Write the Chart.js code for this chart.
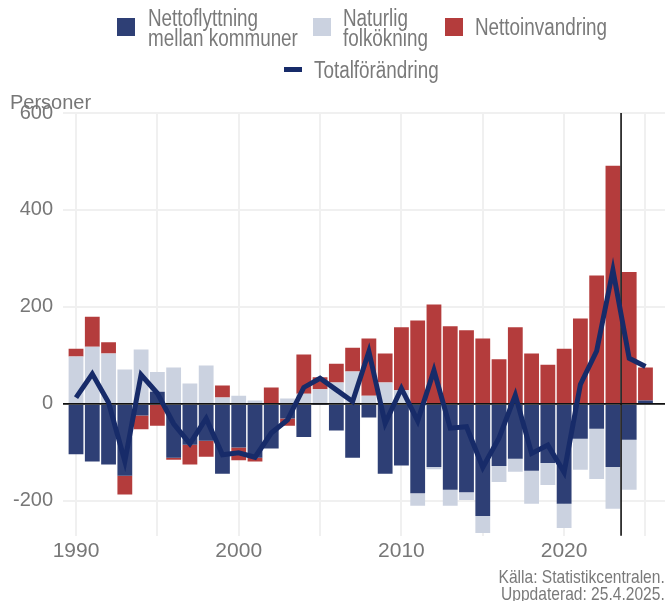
<!DOCTYPE html>
<html>
<head>
<meta charset="utf-8">
<script src="https://cdn.jsdelivr.net/npm/chart.js@4"></script>
<style>
  html, body { margin: 0; padding: 0; background: #fff; }
  #wrap { position: relative; width: 670px; height: 601px; overflow: hidden; }
  #c { position: absolute; left: 0; top: 0; }
  .lg { position: absolute; font-family: "Liberation Sans", Arial, sans-serif; font-size: 23px; color: #7a7a7a; line-height: 20px; white-space: nowrap; transform: scaleX(0.82); transform-origin: 0 0; }
  .box { position: absolute; width: 18px; height: 18px; }
  .ln { position: absolute; width: 18px; height: 5px; }
  #unit { position: absolute; left: 10px; top: 91px; font-family: "Liberation Sans", Arial, sans-serif; font-size: 20px; color: #777; }
  #src { position: absolute; right: 5px; top: 568px; text-align: right; font-family: "Liberation Sans", Arial, sans-serif; font-size: 19px; line-height: 17px; color: #7a7a7a; transform: scaleX(0.82); transform-origin: 100% 0; white-space: nowrap; }
</style>
</head>
<body>
<div id="wrap">
  <canvas id="c" width="670" height="601"></canvas>
  <div class="box" style="left:117px; top:18px; background:#2e3f75"></div>
  <div class="lg" style="left:148px; top:8px">Nettoflyttning<br>mellan kommuner</div>
  <div class="box" style="left:313px; top:18px; background:#cbd2e0"></div>
  <div class="lg" style="left:343px; top:8px">Naturlig<br>folkökning</div>
  <div class="box" style="left:445px; top:18px; background:#b43c3c"></div>
  <div class="lg" style="left:475px; top:17px">Nettoinvandring</div>
  <div class="ln" style="left:284px; top:67px; background:#172b69"></div>
  <div class="lg" style="left:314px; top:60px">Totalförändring</div>
  <div id="unit">Personer</div>
  <div id="src">Källa: Statistikcentralen.<br>Uppdaterad: 25.4.2025.</div>
</div>
<script>
const years = [1990,1991,1992,1993,1994,1995,1996,1997,1998,1999,
               2000,2001,2002,2003,2004,2005,2006,2007,2008,2009,
               2010,2011,2012,2013,2014,2015,2016,2017,2018,2019,
               2020,2021,2022,2023,2024,2025];
const nettoflyttning = [-104,-119,-125,-148,-24,25,-111,-84,-76,-144,
                        -90,-111,-92,-30,-68,-1,-55,-111,-28,-144,
                        -127,-184,-130,-177,-182,-231,-128,-113,-138,-122,
                        -206,-72,-51,-130,-74,7];
const naturlig = [98,118,104,71,112,41,75,42,79,13,
                  17,7,0,11,21,30,44,67,17,44,
                  28,-26,-5,-33,-16,-35,-33,-27,-68,-45,
                  -50,-64,-104,-86,-103,0];
const nettoinvandring = [16,62,23,-39,-28,-45,-4,-41,-33,25,
                         -26,-8,34,-15,81,25,39,49,118,60,
                         130,172,205,160,152,135,92,158,104,81,
                         114,176,265,491,272,68];
const totalforandring = [13,62,3,-118,60,22,-41,-82,-30,-105,
                         -101,-110,-60,-33,34,53,29,5,108,-40,
                         32,-35,69,-50,-47,-131,-70,18,-102,-85,
                         -141,40,109,276,94,77];
const xTicks = [1990,1995,2000,2005,2010,2015,2020,2025];
const yTicks = [-200,0,200,400,600];
const markerYear = 2023.5;

const pts = arr => years.map((y, i) => ({x: y, y: arr[i]}));

const refLines = {
  id: 'refLines',
  beforeDatasetDraw(chart, args) {
    if (args.meta.type !== 'line') return;
    const {ctx, chartArea, scales} = chart;
    ctx.save();
    ctx.strokeStyle = '#111';
    ctx.lineWidth = 1.6;
    const y0 = scales.y.getPixelForValue(0);
    ctx.beginPath();
    ctx.moveTo(chartArea.left, y0);
    ctx.lineTo(chartArea.right, y0);
    ctx.stroke();
    const xm = scales.x.getPixelForValue(markerYear);
    ctx.beginPath();
    ctx.moveTo(xm, chartArea.top);
    ctx.lineTo(xm, chartArea.bottom);
    ctx.stroke();
    ctx.restore();
  }
};

new Chart(document.getElementById('c'), {
  type: 'bar',
  data: {
    datasets: [
      { type: 'line', label: 'Totalförändring', data: pts(totalforandring), borderColor: '#172b69', backgroundColor: '#172b69', borderWidth: 5, pointRadius: 0, tension: 0, order: 0, stack: 'total' },
      { label: 'Nettoflyttning mellan kommuner', data: pts(nettoflyttning), backgroundColor: '#2e3f75', order: 1, stack: 's' },
      { label: 'Naturlig folkökning', data: pts(naturlig), backgroundColor: '#cbd2e0', order: 1, stack: 's' },
      { label: 'Nettoinvandring', data: pts(nettoinvandring), backgroundColor: '#b43c3c', order: 1, stack: 's' }
    ]
  },
  options: {
    responsive: false,
    animation: false,
    barPercentage: 0.91,
    categoryPercentage: 1,
    layout: { padding: { top: 113, right: 5, bottom: 34, left: 0 } },
    plugins: { legend: { display: false }, tooltip: { enabled: false } },
    scales: {
      x: {
        type: 'linear', stacked: true, min: 1989.2, max: 2026.2, offset: false,
        afterBuildTicks: s => { s.ticks = xTicks.map(v => ({value: v})); },
        grid: { color: '#f0f0f0', lineWidth: 2, drawTicks: false, offset: false },
        border: { display: false },
        ticks: {
          padding: 3,
          font: { family: '"Liberation Sans", Arial, sans-serif', size: 21 },
          color: '#777',
          callback: v => (v % 10 === 0 ? String(v) : '')
        }
      },
      y: {
        stacked: true, min: -272, max: 600,
        afterBuildTicks: s => { s.ticks = yTicks.map(v => ({value: v})); },
        afterFit: s => { s.width = 63; },
        grid: { color: '#f0f0f0', lineWidth: 2, drawTicks: false },
        border: { display: false },
        ticks: {
          padding: 10,
          font: { family: '"Liberation Sans", Arial, sans-serif', size: 20 },
          color: '#777'
        }
      }
    }
  },
  plugins: [refLines]
});
</script>
</body>
</html>
